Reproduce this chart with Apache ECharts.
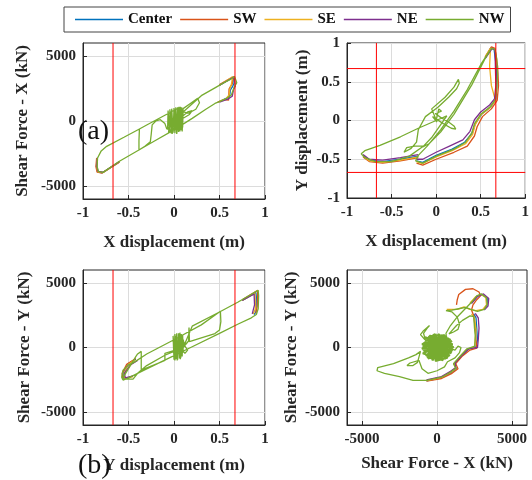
<!DOCTYPE html>
<html>
<head>
<meta charset="utf-8">
<script src="https://cdn.jsdelivr.net/npm/echarts@6/dist/echarts.min.js"></script>
<style>
  html, body { margin: 0; padding: 0; background: #fff; }
  #main { width: 532px; height: 480px; }
</style>
</head>
<body>
<div id="main"></div>
<script>
// series names and colours (MATLAB default order)
var seriesNames = ['Center', 'SW', 'SE', 'NE', 'NW'];
var seriesColors = ['#0072BD', '#D95319', '#EDB120', '#7E2F8E', '#77AC30'];

// displacement limits (red lines)
var limitX = [-0.67, 0.67];
var limitY = [-0.67, 0.67];
// force axis tick values
var forceTicks = [-5000, 0, 5000];
var forceRange = [-6000, 6000];
var dispRange = [-1, 1];

// ---- (a) X displacement (m) vs Shear Force - X (kN)
var s1NW = [
  [0,0],[-0.07,-600],[-0.065,800],[-0.05,-850],[-0.045,900],[-0.03,-950],[-0.025,950],[-0.01,-900],[0,1000],[0.01,-950],[0.02,1050],[0.03,-900],[0.04,1050],[0.05,-850],[0.055,1100],[0.065,-800],[0.07,1100],[0.08,-700],[0.085,1050],[0.095,-500],[0.1,950],
  [0.18,1350],[0.26,1750],[0.28,1400],[0.24,900],[0.16,600],[0.1,700],
  [0.3,1950],[0.45,2550],[0.55,2950],[0.62,3200],[0.665,3430],[0.69,2950],[0.665,2650],[0.645,2550],[0.63,2000],[0.58,1750],[0.52,1550],[0.45,1350],[0.35,900],[0.2,200],[0,-680],
  [-0.2,-1480],[-0.4,-2290],[-0.6,-3100],[-0.78,-3950],[-0.83,-3900],[-0.845,-3500],[-0.84,-2850],[-0.8,-2300],[-0.74,-1950],[-0.55,-1250],[-0.38,-613],
  [-0.385,-1500],[-0.385,-2230],[-0.32,-1950],[-0.26,-1600],[-0.25,-1000],[-0.24,-300],[-0.2,0],[-0.15,100],[-0.1,-200],[-0.08,-600],[-0.02,-700],[0.05,-300],[0.1,400],[0.15,700],[0.2,800],[0.17,500],[0.05,0],
  [-0.06,-900],[-0.04,700],[-0.02,-1000],[0.01,900],[0.03,-1000],[0.06,900],[0.09,-800],[0.1,700],
  [0.05,1000],[-0.1,440],[-0.3,-310],[-0.38,-613]
];
var s1Center = [[0.5,2750],[0.6,3150],[0.655,3380],[0.66,2900],[0.64,2600],[0.62,2400],[0.61,1850],[0.56,1700],[0.5,1500],'-',
  [-0.6,-3150],[-0.785,-3980],[-0.84,-3920],[-0.852,-3500],[-0.846,-2850]];
var s1SW = [[0.5,2800],[0.6,3200],[0.65,3350],[0.64,2850],[0.62,2650],[0.605,2450],[0.6,1600],[0.55,1650],[0.48,1450],'-',
  [-0.6,-3170],[-0.79,-4000],[-0.845,-3940],[-0.858,-3500],[-0.85,-2850]];
var s1SE = [[0.5,2750],[0.6,3200],[0.645,3420],[0.63,2800],[0.615,2500],[0.605,2000],[0.57,1700],[0.5,1520],'-',
  [-0.6,-3140],[-0.782,-3970],[-0.838,-3910],[-0.85,-3500],[-0.844,-2850]];
var s1NE = [[0.5,2750],[0.6,3150],[0.66,3400],[0.675,2700],[0.655,2450],[0.64,1900],[0.59,1680],[0.5,1450],'-',
  [-0.6,-3120],[-0.78,-3940],[-0.835,-3880],[-0.848,-3480],[-0.842,-2820]];

// ---- top right: X displacement (m) vs Y displacement (m)
var s2NW = [
  [0,0],[0.03,0.15],[0.06,0.12],[-0.01,0.09],[0.05,0.04],[0.14,-0.02],[0.2,-0.07],[0.22,-0.11],[0.17,-0.1],[0.08,-0.04],[-0.04,0.05],[0.01,-0.02],
  [-0.05,0.15],[0.1,0.3],[0.2,0.43],[0.25,0.53],[0.26,0.48],[0.23,0.41],[0.14,0.3],[0.02,0.17],[-0.12,0.05],[-0.2,-0.12],[-0.22,-0.28],[-0.28,-0.36],[-0.36,-0.41],[-0.33,-0.35],[-0.24,-0.33],[-0.14,-0.33],
  [-0.3,-0.46],[-0.5,-0.53],[-0.68,-0.53],[-0.8,-0.48],[-0.84,-0.43],[-0.8,-0.39],[-0.63,-0.32],[-0.4,-0.21],[-0.2,-0.1],[0,0],[0.12,0.06],
  [-0.05,-0.22],[-0.15,-0.34],[-0.08,-0.3],[0.05,-0.15],[0.2,0.08],[0.4,0.46],[0.55,0.8],[0.62,0.93],[0.66,0.92],[0.68,0.8],[0.69,0.6],[0.68,0.4],[0.665,0.27],[0.6,0.17],[0.5,0.08],[0.43,-0.04],[0.4,-0.16],[0.33,-0.28],[0.2,-0.37],[0,-0.46],[-0.15,-0.55],[-0.23,-0.52],[-0.2,-0.45],[-0.1,-0.33],[0.05,-0.12],[0.2,0.12],[0.35,0.4],[0.5,0.72],[0.6,0.9]
];
var s2Center = [[0.55,0.8],[0.61,0.93],[0.65,0.92],[0.675,0.7],[0.68,0.45],[0.67,0.27],[0.61,0.17],[0.51,0.08],[0.44,-0.04],[0.4,-0.17],[0.32,-0.28],[0.18,-0.37],[0,-0.45],[-0.15,-0.54],[-0.22,-0.52],'-',
  [-0.2,-0.46],[-0.4,-0.5],[-0.6,-0.53],[-0.75,-0.51],[-0.82,-0.45]];
var s2SW = [[0.55,0.82],[0.62,0.95],[0.66,0.93],[0.69,0.7],[0.7,0.45],[0.685,0.26],[0.62,0.15],[0.52,0.05],[0.46,-0.08],[0.43,-0.2],[0.35,-0.33],[0.2,-0.41],[0,-0.5],[-0.15,-0.575],[-0.22,-0.55],'-',
  [-0.2,-0.48],[-0.4,-0.52],[-0.6,-0.55],[-0.75,-0.53],[-0.82,-0.47]];
var s2SE = [[0.55,0.82],[0.61,0.93],[0.6,0.7],[0.62,0.45],[0.665,0.26],[0.6,0.16],[0.5,0.07],[0.44,-0.05],[0.41,-0.18],[0.33,-0.3],[0.18,-0.39],[0,-0.47],[-0.15,-0.555],[-0.22,-0.53],'-',
  [-0.2,-0.47],[-0.4,-0.51],[-0.6,-0.54],[-0.75,-0.52],[-0.82,-0.46]];
var s2NE = [[0.55,0.8],[0.63,0.93],[0.66,0.91],[0.665,0.7],[0.67,0.45],[0.655,0.28],[0.6,0.2],[0.5,0.11],[0.43,0.01],[0.38,-0.14],[0.3,-0.25],[0.15,-0.33],[0,-0.41],[-0.15,-0.5],[-0.22,-0.5],'-',
  [-0.2,-0.44],[-0.4,-0.48],[-0.6,-0.51],[-0.75,-0.5],[-0.82,-0.44]];

// ---- (b) Y displacement (m) vs Shear Force - Y (kN)
var s3NW = [
  [0,0],[-0.01,900],[0,-950],[0.01,1050],[0.02,-900],[0.03,1100],[0.04,-950],[0.05,1100],[0.06,-850],[0.065,1150],[0.075,-800],[0.08,1050],[0.09,-700],[0.095,950],[0.1,-400],[0.1,600],
  [0.12,100],[0.15,-200],[0.12,-450],[0.09,-200],
  [0.2,1650],[0.5,2750],[0.7,3500],[0.9,4330],[0.925,4420],[0.93,4000],[0.925,3000],[0.905,2550],[0.85,2300],[0.7,1800],[0.5,1090],[0.2,60],[0,-630],[-0.3,-1660],[-0.5,-2350],[-0.56,-2520],[-0.575,-2300],[-0.56,-1750],[-0.5,-1350],[-0.44,-1150],[-0.3,-500],[0,600],[0.3,1750],[0.51,2800],[0.515,2000],[0.5,1350],[0.45,1080],[0.3,750],[0.17,450],[0.165,1550],[0.16,500],[0.1,0],
  [-0.1,-450],[-0.1,-1000],[-0.15,-1150],[-0.36,-1750],[-0.36,-300],[-0.4,-500],[-0.42,-700],[-0.48,-1400],[-0.57,-2450],[-0.45,-2450],[-0.4,-2000],[-0.3,-1400],[-0.1,-600],[0,-300],
  [0.01,-1000],[0.025,900],[0.035,-1000],[0.055,1000],[0.07,-900],[0.09,900]
];
var s3Center = [[0.75,3650],[0.9,4250],[0.905,3900],[0.9,2750],[0.88,2550],'-',
  [-0.42,-900],[-0.5,-1250],[-0.555,-1900],[-0.55,-2400],[-0.47,-2300]];
var s3SW = [[0.75,3700],[0.92,4420],[0.915,3200],[0.9,2650],'-',
  [-0.42,-850],[-0.52,-1300],[-0.57,-2000],[-0.56,-2450]];
var s3SE = [[0.75,3650],[0.89,4200],[0.895,3000],[0.87,2600],'-',
  [-0.43,-950],[-0.5,-1300],[-0.55,-2000],[-0.54,-2400],[-0.45,-2250]];
var s3NE = [[0.75,3650],[0.88,4150],[0.885,3300],[0.86,2600],'-',
  [-0.4,-1000],[-0.48,-1350],[-0.545,-2000],[-0.535,-2350],[-0.45,-2200]];

// ---- bottom right: Shear Force - X (kN) vs Shear Force - Y (kN)
// dense scribble around the origin (NW)
var s4NWCore = [
  [1100,0],[-850,400],[850,-650],[-350,950],[300,-980],[300,1000],[-400,-900],[900,650],[-900,-300],[1050,250],[-700,700],[600,-900],[-100,1050],[0,-1000],[650,850],[-750,-650],[950,400],[-950,100],[750,-750],[-550,900],[250,-1000],[450,1000],[-600,-850],[1000,-300],[-900,350],[800,700],[-300,-1000],[-250,1000],[800,-600],[-950,-150],[1050,150],
  [-800,800],[700,-800],[-100,-1050],[150,1050],[-1000,-100],[1050,-200],[-500,950],[400,-1000],[-950,-450],[1000,500],[-650,-800],[550,950],[-1000,250],[950,-450],[-200,1050],[100,-1000],[1100,50],
  [-400,500],[600,-300],[-200,-500],[300,600],[-600,0],[700,200],[-300,-700],[200,-200],[-100,700],[500,-600],[-700,-300],[400,300],[0,-400],[-500,400],[700,-100]
];
var s4NW = [
  [700,-100],[600,1100],[900,1700],[1300,2300],[1800,2900],[2300,3500],[2650,4000],[2950,4150],[3300,3850],[3350,3350],[3150,2950],[2700,2800],[2250,2950],[1900,3100],[1450,3000],[1000,2900],[600,2850],[1000,2750],[1350,2350],[1500,1800],[1400,1400],[1100,1200],[800,1050],
  [1300,1700],[1700,2100],[2200,2450],[2450,2400],[2500,1500],[2550,900],[2520,100],[2000,-100],[1600,-600],[1100,-1250],[1250,-1600],[900,-1900],[300,-2300],[-700,-2550],[-1600,-2550],[-2500,-2250],[-3500,-2000],[-4000,-1800],[-3950,-1550],[-2900,-1250],[-1900,-800],[-1400,-550],[-1100,-300],
  [-1300,-1150],[-1600,-1400],[-2000,-1400],[-1800,-1200],[-1200,-1000],[-1000,-1650],[-600,-2000],[0,-1800],[500,-1500],[700,-1100],[1200,-800],[1500,-400],[1600,0],[1400,100],[1200,-200],
  [-800,600],[-1100,1000],[-900,1300],[-500,1700],[-650,1500],[-900,1100],[-700,300]
];
var s4Center = [[2300,3450],[2650,3950],[3000,4100],[3350,3800],[3350,3300],[3100,2950],'-',
  [2450,2600],[2600,2300],[2650,1500],[2700,600],[2600,50],[2050,-150],[1650,-650],[1150,-1300],[1300,-1650],[950,-1950],[300,-2350],[-700,-2580]];
var s4SW = [[1300,3300],[1350,3700],[1450,4100],[1900,4500],[2400,4550],[2800,4300],[2900,4000],[2650,3700],[2400,3300],[2300,2900],[2450,2450],[2550,1500],[2600,600],[2650,-50],[2200,-200],[1700,-650],[1250,-1250],[1400,-1650],[1000,-2000],[300,-2400],[-700,-2600]];
var s4SE = [[2200,3450],[2600,3950],[2900,4100],[3250,3900],[3300,3300],[3050,2950],[2600,2850],[2200,2950],[1800,3150],[1350,2950],[1000,2950],[650,2950],'-',
  [2300,2600],[2500,2300],[2600,1400],[2550,600],[2500,0],[2000,-130],[1600,-620],[1120,-1270],[1270,-1620],[920,-1920],[300,-2320],[-700,-2560]];
var s4NE = [[2300,3400],[2700,3950],[3100,4150],[3450,3800],[3400,3200],[3150,2900],'-',
  [2550,2650],[2750,2300],[2800,1500],[2750,600],[2700,0],[2150,-80],[1700,-550],[1200,-1200],[1250,-1550],[900,-1850],[300,-2250],[-700,-2500]];

var plotData = [
  [s1Center, s1SW, s1SE, s1NE, s1NW],
  [s2Center, s2SW, s2SE, s2NE, s2NW],
  [s3Center, s3SW, s3SE, s3NE, s3NW],
  [s4Center, s4SW, s4SE, s4NE, s4NW]
];

var chart = echarts.init(document.getElementById('main'));

var FONT = 'Liberation Serif';
var TXT = '#262626';
var GRIDC = '#dcdcdc';

function makeAxis(gi, range, interval, name, gap) {
  return {
    type: 'value', gridIndex: gi, min: range[0], max: range[1], interval: interval,
    name: name, nameLocation: 'middle', nameGap: gap,
    nameTextStyle: { fontFamily: FONT, fontWeight: 'bold', fontSize: 17, color: TXT },
    axisLine: { show: true, onZero: false, lineStyle: { color: '#262626', width: 1 } },
    axisTick: { show: true, inside: true, length: 4, lineStyle: { color: '#262626' } },
    axisLabel: { fontFamily: FONT, fontWeight: 'bold', fontSize: 15, color: TXT, margin: 7,
                 formatter: function (v) { return String(v); } },
    splitLine: { show: true, lineStyle: { color: GRIDC, width: 1 } }
  };
}
// force axes: ticks, labels and grid lines only at the forceTicks values
function makeForceAxis(gi, name, gap) {
  var a = makeAxis(gi, forceRange, 1000, name, gap);
  a.axisTick.customValues = forceTicks;
  a.axisLabel.customValues = forceTicks;
  return a;
}

var grids = [
  { left: 83, top: 43, width: 182, height: 156 },
  { left: 347, top: 43, width: 180, height: 155 },
  { left: 83, top: 270, width: 182, height: 155 },
  { left: 347, top: 270, width: 180, height: 155 }
].map(function (g) {
  g.show = true; g.borderColor = '#262626'; g.borderWidth = 1;
  return g;
});

var xAxes = [
  makeAxis(0, dispRange, 0.5, 'X displacement (m)', 35),
  makeAxis(1, dispRange, 0.5, 'X displacement (m)', 35),
  makeAxis(2, dispRange, 0.5, 'Y displacement (m)', 32),
  makeForceAxis(3, 'Shear Force - X (kN)', 30)
];
var yAxes = [
  makeForceAxis(0, 'Shear Force - X (kN)', 52),
  makeAxis(1, dispRange, 0.5, 'Y displacement (m)', 36),
  makeForceAxis(2, 'Shear Force - Y (kN)', 50),
  makeForceAxis(3, 'Shear Force - Y (kN)', 47)
];

// full-height / full-width straight lines at given values
function vLines(vals, yr) {
  var d = [];
  vals.forEach(function (v) { d.push([v, yr[0]], [v, yr[1]], '-'); });
  return d;
}
function hLines(vals, xr) {
  var d = [];
  vals.forEach(function (v) { d.push([xr[0], v], [xr[1], v], '-'); });
  return d;
}
function refLine(gi, data, color, z, nm) {
  return {
    type: 'line', name: nm, xAxisIndex: gi, yAxisIndex: gi, data: data,
    showSymbol: false, symbol: 'none', connectNulls: false, silent: true, animation: false, z: z,
    lineStyle: { color: color, width: 1, opacity: 1 }, itemStyle: { color: color }
  };
}

var series = [];
plotData.forEach(function (group, gi) {
  group.forEach(function (data, si) {
    series.push({
      name: seriesNames[si], type: 'line', xAxisIndex: gi, yAxisIndex: gi,
      data: data, showSymbol: false, symbol: 'none', connectNulls: false,
      lineStyle: { width: 1.3, color: seriesColors[si] },
      itemStyle: { color: seriesColors[si] },
      animation: false, silent: true, z: 3 + si
    });
  });
});
// dense core of NW in the force-force plot
series.push({
  name: 'NW', type: 'line', xAxisIndex: 3, yAxisIndex: 3, data: s4NWCore,
  showSymbol: false, symbol: 'none', silent: true, animation: false, z: 8,
  lineStyle: { width: 2, color: seriesColors[4] }, itemStyle: { color: seriesColors[4] }
});

// red displacement limits
series.push(refLine(0, vLines(limitX, forceRange), '#ff0000', 12, 'limA'));
series.push(refLine(1, vLines(limitX, dispRange).concat(hLines(limitY, dispRange)), '#ff0000', 12, 'limB'));
series.push(refLine(2, vLines(limitX, forceRange), '#ff0000', 12, 'limC'));

var option = {
  backgroundColor: '#fff',
  animation: false,
  legend: {
    data: seriesNames, left: 64, top: 7, orient: 'horizontal',
    icon: 'rect', itemWidth: 48, itemHeight: 1.5, itemGap: 8,
    padding: [5, 6, 5, 11], borderColor: '#444', borderWidth: 1, backgroundColor: '#fff',
    selectedMode: false,
    textStyle: { fontFamily: FONT, fontWeight: 'bold', fontSize: 15, color: '#111' }
  },
  grid: grids,
  xAxis: xAxes,
  yAxis: yAxes,
  series: series,
  graphic: [
    { type: 'text', left: 78, top: 118, z: 100, style: { text: '(a)', font: '28px "Liberation Serif"', fill: '#111' } },
    { type: 'text', left: 78, top: 452, z: 100, style: { text: '(b)', font: '28px "Liberation Serif"', fill: '#111' } }
  ]
};

chart.setOption(option);
</script>
</body>
</html>
